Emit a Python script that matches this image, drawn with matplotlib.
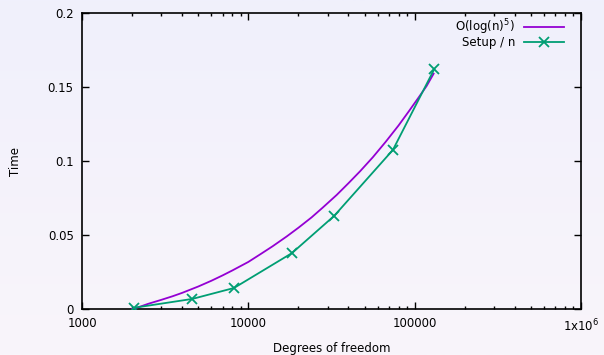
import numpy as np
import matplotlib

matplotlib.use("Agg")
import matplotlib.pyplot as plt
from matplotlib.lines import Line2D

# measured setup time per dof
dofs = [2050, 4600, 8200, 18300, 32800, 74000, 131000]
setup_per_n = [0.0008, 0.0068, 0.0142, 0.0378, 0.0629, 0.1075, 0.162]

# O(log(n)^5) reference curve
ref_n = [2000, 2250, 2500, 3000, 3500, 4000, 5000, 6000, 7000, 8000, 10000,
         12000, 14000, 17000, 20000, 24000, 28000, 34000, 40000, 47000, 56000,
         67000, 80000, 92000, 105000, 118000, 130000]
ref_t = [0.0, 0.0017, 0.0035, 0.0062, 0.0086, 0.0109, 0.0152, 0.0191, 0.0227,
         0.0260, 0.0318, 0.0375, 0.0424, 0.0490, 0.0549, 0.0619, 0.0685, 0.0771,
         0.0850, 0.0931, 0.1025, 0.1130, 0.1240, 0.1334, 0.1425, 0.1507, 0.1590]

xticks = [1e3, 1e4, 1e5, 1e6]
xtick_labels = ["1000", "10000", "100000", r"1x10$^6$"]
yticks = [0, 0.05, 0.1, 0.15, 0.2]
ytick_labels = ["0", "0.05", "0.1", "0.15", "0.2"]

PURPLE = "#9400d3"
GREEN = "#009e73"

plt.rcParams["font.family"] = ["DejaVu Sans"]
plt.rcParams["mathtext.fontset"] = "dejavusans"

fig = plt.figure(figsize=(6.04, 3.55), dpi=100)

# soft vertical gradient behind everything
bg = fig.add_axes([0, 0, 1, 1], zorder=-10)
grad = np.linspace(0, 1, 256).reshape(-1, 1)
top = np.array([240, 240, 252]) / 255
bot = np.array([249, 245, 250]) / 255
img = top[None, None, :] * (1 - grad[:, :, None]) + bot[None, None, :] * grad[:, :, None]
bg.imshow(img, aspect="auto", extent=[0, 1, 0, 1])
bg.axis("off")

ax = fig.add_axes([82 / 604, 1 - 309 / 355, 499 / 604, 296 / 355])
ax.set_facecolor("none")

ax.plot(ref_n, ref_t, color=PURPLE, lw=1.3, zorder=3)
ax.plot(dofs, setup_per_n, color=GREEN, lw=1.3, marker="x", ms=7, mew=1.3, zorder=4)

ax.set_xscale("log")
ax.set_xlim(1e3, 1e6)
ax.set_ylim(0, 0.2)
ax.set_xticks(xticks)
ax.set_xticklabels(xtick_labels)
ax.set_yticks(yticks)
ax.set_yticklabels(ytick_labels)

ax.tick_params(which="major", direction="in", length=5, width=1, top=True, right=True,
               labelsize=8.5, colors="black", pad=6)
ax.tick_params(axis="x", which="major", pad=6)
ax.tick_params(which="minor", direction="in", length=2.5, width=1, top=True, right=True)
ax.xaxis.set_minor_locator(matplotlib.ticker.LogLocator(base=10, subs=np.arange(2, 10)))
ax.xaxis.set_minor_formatter(matplotlib.ticker.NullFormatter())
for spine in ax.spines.values():
    spine.set_linewidth(1.2)

ax.set_xlabel("Degrees of freedom", fontsize=8.5, va="center")
ax.xaxis.set_label_coords(0.5, -0.132)
ax.set_ylabel("Time", fontsize=8.5, va="center")
ax.yaxis.set_label_coords(-0.134, 0.5)

# gnuplot-style key: text right-aligned, sample on the right
ax.text(0.868, 0.953, r"O(log(n)$^5$)", transform=ax.transAxes, ha="right",
        va="center", fontsize=8.5)
ax.add_line(Line2D([0.886, 0.966], [0.953, 0.953], transform=ax.transAxes,
                   color=PURPLE, lw=1.3))
ax.text(0.868, 0.902, "Setup / n", transform=ax.transAxes, ha="right",
        va="center", fontsize=8.5)
ax.add_line(Line2D([0.886, 0.966], [0.902, 0.902], transform=ax.transAxes,
                   color=GREEN, lw=1.3))
ax.add_line(Line2D([0.926], [0.902], transform=ax.transAxes, color=GREEN,
                   marker="x", ms=7, mew=1.3))

fig.savefig("out.png", dpi=100)
